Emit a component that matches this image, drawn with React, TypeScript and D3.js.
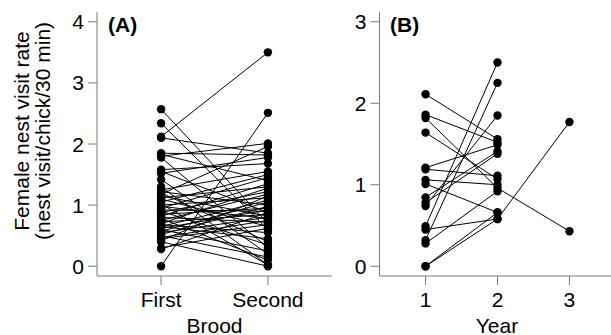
import React from "react";
import * as d3 from "d3";

// Panel A: female nest visit rate in first vs second brood (paired by female)
const firstBrood = [2.57, 2.34, 2.12, 2.10, 1.85, 1.83, 1.80, 1.78, 1.58, 1.55, 1.52, 1.42, 1.25, 1.22, 1.20, 1.18, 1.15, 1.12, 1.10, 1.05, 1.02, 1.00, 0.98, 0.95, 0.92, 0.90, 0.88, 0.85, 0.82, 0.80, 0.78, 0.75, 0.72, 0.70, 0.68, 0.65, 0.62, 0.60, 0.57, 0.55, 0.52, 0.50, 0.47, 0.45, 0.42, 0.30, 0.28, 0.00, 0.40, 1.30, 0.65];
const secondBrood = [0.70, 0.60, 3.50, 1.85, 1.82, 1.40, 2.01, 0.30, 1.68, 0.88, 1.78, 0.20, 1.55, 1.00, 0.40, 1.96, 0.82, 1.30, 0.65, 1.50, 0.02, 1.12, 0.78, 1.45, 0.90, 0.35, 1.22, 0.95, 1.35, 0.72, 0.10, 1.18, 0.85, 1.28, 0.55, 1.08, 0.92, 0.25, 1.05, 0.80, 0.98, 0.15, 0.75, 0.68, 1.15, 0.62, 0.88, 2.51, 0.00, 0.02, 0.45];
const broodLabels = ["First", "Second"];

// Panel B: female nest visit rate by year (null = not observed)
const year1 = [2.11, 1.86, 1.82, 1.64, 1.21, 1.19, 1.06, 1.01, 0.845, 0.78, 0.74, 0.49, 0.45, 0.32, 0.28, 0.0, 0.0];
const year2 = [1.56, 1.52, 0.96, 1.07, 1.49, 1.11, 1.00, 0.66, 1.41, 1.38, 1.85, 2.50, 0.58, 2.25, 0.92, 0.66, 0.58];
const year3: (number | null)[] = [null, null, 0.43, null, null, null, null, null, null, null, null, null, null, null, null, null, 1.77];
const yearTicks = [1, 2, 3];

const ticksA = [0, 1, 2, 3, 4];
const ticksB = [0, 1, 2, 3];

const FONT = "Arial, 'Liberation Sans', Helvetica, sans-serif";
const AXIS = "#7a7a7a";
const FS = 21;

export default function App() {
  const W = 611, H = 335;
  const top = 12, bottom = 276;

  const xA = d3.scaleLinear().domain([0.4, 2.6]).range([97, 332]);
  const yA = d3.scaleLinear().domain([-0.16, 4.16]).range([bottom, top]);
  const xB = d3.scaleLinear().domain([0.36, 3.64]).range([379.5, 615.5]);
  const yB = d3.scaleLinear().domain([-0.12, 3.12]).range([bottom, top]);

  const line = d3.line<[number, number]>().x((d) => d[0]).y((d) => d[1]);

  const seriesA = firstBrood.map((v, i) => [
    [xA(1), yA(v)],
    [xA(2), yA(secondBrood[i])],
  ] as [number, number][]);

  const seriesB = year1.map((v, i) => {
    const pts: [number, number][] = [[xB(1), yB(v)], [xB(2), yB(year2[i])]];
    const y3 = year3[i];
    if (y3 !== null) pts.push([xB(3), yB(y3)]);
    return pts;
  });

  const tickLen = 9;

  const yAxis = (x0: number, ys: d3.ScaleLinear<number, number>, ticks: number[]) => (
    <g>
      <line x1={x0} x2={x0} y1={top} y2={bottom} stroke={AXIS} strokeWidth={1} />
      {ticks.map((t) => (
        <g key={t}>
          <line x1={x0 - tickLen} x2={x0} y1={ys(t)} y2={ys(t)} stroke={AXIS} strokeWidth={1} />
          <text x={x0 - tickLen - 4} y={ys(t)} textAnchor="end" dominantBaseline="central" fontSize={FS} fontFamily={FONT} fill="#000">
            {t}
          </text>
        </g>
      ))}
    </g>
  );

  const xAxis = (xs: d3.ScaleLinear<number, number>, ticks: number[], labels: string[]) => {
    const [r0, r1] = xs.range();
    return (
      <g>
        <line x1={r0} x2={r1} y1={bottom} y2={bottom} stroke={AXIS} strokeWidth={1} />
        {ticks.map((t, i) => (
          <g key={t}>
            <line x1={xs(t)} x2={xs(t)} y1={bottom} y2={bottom + tickLen} stroke={AXIS} strokeWidth={1} />
            <text x={xs(t)} y={307} textAnchor="middle" fontSize={FS} fontFamily={FONT} fill="#000">
              {labels[i]}
            </text>
          </g>
        ))}
      </g>
    );
  };

  return (
    <svg width={W} height={H} style={{ position: "absolute", left: 0, top: 0, background: "#fff" }}>
      {/* Panel A */}
      {seriesA.map((pts, i) => (
        <path key={"la" + i} d={line(pts) || ""} fill="none" stroke="#000" strokeWidth={1} />
      ))}
      {seriesA.map((pts, i) =>
        pts.map((p, j) => <circle key={"pa" + i + "-" + j} cx={p[0]} cy={p[1]} r={4.2} fill="#000" />)
      )}
      {yAxis(97, yA, ticksA)}
      {xAxis(xA, [1, 2], broodLabels)}
      <text x={108} y={32} fontSize={FS} fontWeight="bold" fontFamily={FONT}>(A)</text>
      <text x={(97 + 332) / 2} y={333} textAnchor="middle" fontSize={FS} fontFamily={FONT}>Brood</text>

      {/* Panel B */}
      {seriesB.map((pts, i) => (
        <path key={"lb" + i} d={line(pts) || ""} fill="none" stroke="#000" strokeWidth={1} />
      ))}
      {seriesB.map((pts, i) =>
        pts.map((p, j) => <circle key={"pb" + i + "-" + j} cx={p[0]} cy={p[1]} r={4.2} fill="#000" />)
      )}
      {yAxis(379.5, yB, ticksB)}
      {xAxis(xB, yearTicks, yearTicks.map(String))}
      <text x={390} y={32} fontSize={FS} fontWeight="bold" fontFamily={FONT}>(B)</text>
      <text x={497} y={333} textAnchor="middle" fontSize={FS} fontFamily={FONT}>Year</text>

      {/* Shared y label */}
      <g transform="translate(29,131) rotate(-90)">
        <text textAnchor="middle" fontSize={FS} fontFamily={FONT}>Female nest visit rate</text>
      </g>
      <g transform="translate(50,131) rotate(-90)">
        <text textAnchor="middle" fontSize={FS} fontFamily={FONT}>(nest visit/chick/30 min)</text>
      </g>
    </svg>
  );
}
